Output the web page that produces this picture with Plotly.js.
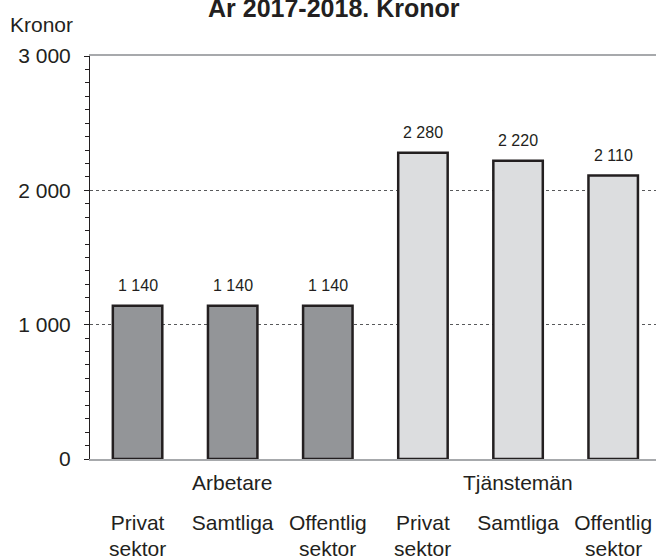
<!DOCTYPE html>
<html>
<head>
<meta charset="utf-8">
<script src="https://cdn.plot.ly/plotly-3.0.1.min.js"></script>
<style>html,body{margin:0;padding:0;background:#fff;}#chart{width:656px;height:556px;}</style>
</head>
<body>
<div id="chart"></div>
<script>
var categoryLine1 = ["Privat", "Samtliga", "Offentlig", "Privat", "Samtliga", "Offentlig"];
var categoryLine2 = ["sektor", "", "sektor", "sektor", "", "sektor"];
var groups = ["Arbetare", "Tjänstemän"];
var groupIndex = [0, 0, 0, 1, 1, 1];
var values = [1140, 1140, 1140, 2280, 2220, 2110];
var groupColors = ["#939598", "#dcdddf"];
var yTickVals = [0, 1000, 2000, 3000];
var titleText = "År 2017-2018. Kronor";
var yLabel = "Kronor";

var ink = "#231f20";
var font = "Liberation Sans, Arial, sans-serif";
var ML = 90, PW = 566;

function fmt(v) {
  return String(v).replace(/\B(?=(\d{3})+(?!\d))/g, " ");
}
function px2paper(px) { return (px - ML) / PW; }

var xs = values.map(function (v, i) { return i; });

var trace = {
  type: "bar",
  x: xs,
  y: values,
  width: 0.52,
  marker: {
    color: groupIndex.map(function (g) { return groupColors[g]; }),
    line: { color: ink, width: 2.5 }
  },
  hoverinfo: "none"
};

var annotations = [];
values.forEach(function (v, i) {
  annotations.push({
    x: i, y: v, xref: "x", yref: "y",
    text: fmt(v), showarrow: false,
    yanchor: "middle", yshift: 20,
    font: { family: font, size: 16, color: ink }
  });
});
categoryLine2.forEach(function (t, i) {
  if (!t) return;
  annotations.push({
    x: i, y: 0, xref: "x", yref: "paper",
    text: t, showarrow: false,
    yanchor: "middle", yshift: -89,
    font: { family: font, size: 21, color: ink }
  });
});
groups.forEach(function (g, gi) {
  var idx = [];
  groupIndex.forEach(function (k, i) { if (k === gi) idx.push(i); });
  var mid = (idx[0] + idx[idx.length - 1]) / 2;
  annotations.push({
    x: mid, y: 0, xref: "x", yref: "paper",
    text: g, showarrow: false,
    yanchor: "middle", yshift: -23,
    font: { family: font, size: 21, color: ink }
  });
});
annotations.push({
  x: px2paper(333.5), y: 1, xref: "paper", yref: "paper",
  text: "<b>" + titleText + "</b>", showarrow: false,
  xanchor: "center", yanchor: "middle", yshift: 48,
  font: { family: font, size: 25, color: ink }
});
annotations.push({
  x: px2paper(41), y: 1, xref: "paper", yref: "paper",
  text: yLabel, showarrow: false,
  xanchor: "center", yanchor: "middle", yshift: 32,
  font: { family: font, size: 21, color: ink }
});

var layout = {
  width: 656,
  height: 556,
  margin: { l: ML, r: 0, t: 56, b: 97, pad: 0 },
  paper_bgcolor: "#ffffff",
  plot_bgcolor: "#ffffff",
  showlegend: false,
  separators: ", ",
  font: { family: font, size: 21, color: ink },
  xaxis: {
    range: [-0.5, 5.45],
    tickmode: "array",
    tickvals: xs,
    ticktext: categoryLine1,
    ticks: "",
    showgrid: false,
    zeroline: false,
    showline: true,
    mirror: true,
    linecolor: "#a7a9ac",
    linewidth: 2,
    ticklabelstandoff: 44,
    tickfont: { family: font, size: 21, color: ink },
    fixedrange: true
  },
  yaxis: {
    range: [0, 3000],
    tickmode: "array",
    tickvals: yTickVals,
    tickformat: ",d",
    ticks: "outside",
    ticklen: 5,
    tickwidth: 1,
    tickcolor: ink,
    ticklabelstandoff: 9,
    minor: { dtick: 100, ticks: "outside", ticklen: 4, tickwidth: 1, tickcolor: ink, showgrid: false },
    showgrid: true,
    gridcolor: "#58595b",
    griddash: "dot",
    gridwidth: 1,
    zeroline: false,
    showline: true,
    linecolor: ink,
    linewidth: 1,
    tickfont: { family: font, size: 21, color: ink },
    fixedrange: true
  },
  annotations: annotations
};

Plotly.newPlot("chart", [trace], layout, { displayModeBar: false, staticPlot: true });
</script>
</body>
</html>
